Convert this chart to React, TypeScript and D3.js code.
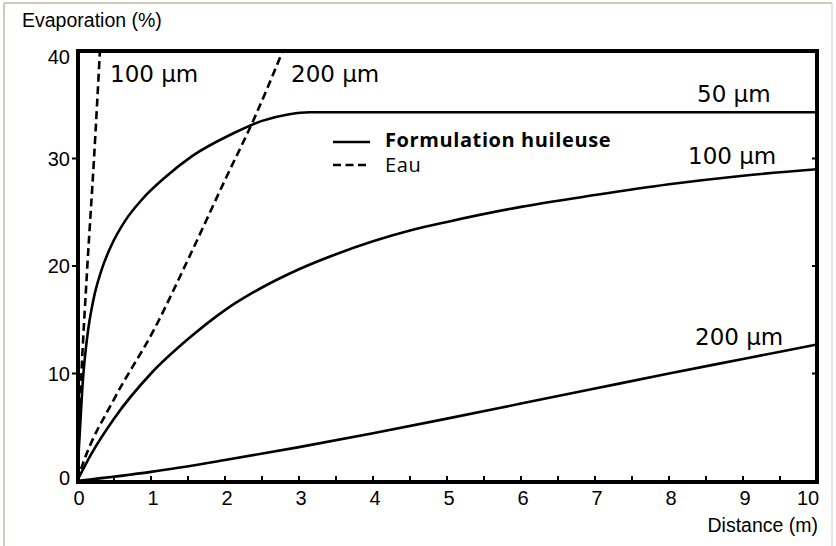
import React from 'react'
import * as d3 from 'd3'

// Distance (m) / evaporation (%) pairs
const oil50Distance = [0, 0.04, 0.08, 0.14, 0.22, 0.33, 0.47, 0.65, 0.88, 1.2, 1.55, 2.1, 2.5, 2.85, 3.15, 4, 10]
const oil50Evap = [0, 4.8, 9.4, 13.5, 16.8, 19.6, 22.0, 24.2, 26.2, 28.3, 30.2, 32.3, 33.5, 34.1, 34.3, 34.3, 34.3]

const oil100Distance = [0, 0.2, 0.5, 1, 1.5, 2, 2.5, 3, 3.5, 4, 4.5, 5, 6, 7, 8, 9, 10]
const oil100Evap = [0, 2.6, 5.8, 10, 13.2, 15.9, 18.0, 19.7, 21.1, 22.3, 23.3, 24.1, 25.5, 26.6, 27.6, 28.4, 29.0]

const oil200Distance = [0, 1, 2, 3, 4, 5, 6, 7, 8, 9, 10]
const oil200Evap = [0, 0.85, 1.95, 3.15, 4.45, 5.8, 7.2, 8.6, 10.0, 11.35, 12.7]

const water100Distance = [0, 0.06, 0.14, 0.23, 0.31]
const water100Evap = [0, 10, 20, 30, 40]

const water200Distance = [0, 0.1, 0.5, 1.05, 1.5, 2.0, 2.4, 2.78]
const water200Evap = [0, 2, 7.6, 14.2, 20.6, 28, 33.8, 40]

const xTickLabels = [0, 1, 2, 3, 4, 5, 6, 7, 8, 9, 10]
const xMinorTicks = [0.5, 1, 1.5, 2, 2.5, 3, 3.5, 4, 4.5, 5, 5.5, 6, 6.5, 7, 7.5, 8, 8.5, 9, 9.5]
const yTickLabels = [0, 10, 20, 30, 40]
const yInnerTicks = [10, 20, 30]

type Pt = [number, number]
const zip = (xs: number[], ys: number[]): Pt[] => xs.map((x, i) => [x, ys[i]])

const W = 836
const H = 546
const left = 78, right = 817, top = 51, bottom = 482

const x = d3.scaleLinear().domain([0, 10]).range([77, 817])
const y = d3.scaleLinear().domain([0, 40]).range([481, 51])

const line = d3.line<Pt>()
  .x(d => x(d[0]))
  .y(d => y(d[1]))
  .curve(d3.curveMonotoneX)

const labelFont = '"DejaVu Sans", sans-serif'
const axisFont = '"Liberation Sans", Arial, sans-serif'
const legendFont = '"Open Sans", sans-serif'

export default function App() {
  const solid = [zip(oil50Distance, oil50Evap), zip(oil100Distance, oil100Evap), zip(oil200Distance, oil200Evap)]
  const dashed = [zip(water100Distance, water100Evap), zip(water200Distance, water200Evap)]

  return (
    <svg width={W} height={H} style={{ position: 'absolute', left: 0, top: 0, background: '#fff' }}>
      <defs>
        <clipPath id="plot">
          <rect x={left} y={top} width={right - left} height={bottom - top} />
        </clipPath>
      </defs>

      {/* outer border */}
      <line x1={4} y1={3} x2={832} y2={3} stroke="#c6b6a6" strokeWidth={1.5} />
      <line x1={4} y1={3} x2={4} y2={H} stroke="#c6b6a6" strokeWidth={1.5} />
      <line x1={832} y1={3} x2={832} y2={H} stroke="#dcdcdc" strokeWidth={1.5} />

      {/* curves */}
      <g clipPath="url(#plot)" fill="none" stroke="#000" strokeWidth={2.6}>
        {solid.map((d, i) => <path key={'s' + i} d={line(d) || ''} />)}
        {dashed.map((d, i) => <path key={'d' + i} d={line(d) || ''} strokeDasharray="8,4.5" />)}
      </g>

      {/* ticks */}
      <g stroke="#000" strokeWidth={2}>
        {xMinorTicks.map(t => <line key={'xt' + t} x1={x(t)} x2={x(t)} y1={bottom} y2={bottom - 6} />)}
        {yInnerTicks.map(t => <line key={'yl' + t} x1={left} x2={left - 6} y1={y(t)} y2={y(t)} />)}
        {yInnerTicks.map(t => <line key={'yr' + t} x1={right} x2={right - 5} y1={y(t)} y2={y(t)} />)}
      </g>

      {/* frame */}
      <rect x={left} y={top} width={right - left} height={bottom - top} fill="none" stroke="#000" strokeWidth={4} />

      {/* tick labels */}
      <g fontFamily={axisFont} fontSize={20} fill="#000">
        {xTickLabels.map(t => (
          <text key={'xl' + t} x={x(t) + (t === 10 ? -9 : 2)} y={505} textAnchor="middle">{t}</text>
        ))}
        {yTickLabels.map(t => (
          <text key={'ylb' + t} x={70} y={y(t) + (t === 40 ? 6 : t === 0 ? -3 : 0)} dy="0.35em" textAnchor="end">{t}</text>
        ))}
      </g>

      {/* axis titles */}
      <text x={22} y={27} fontFamily={axisFont} fontSize={19.5}>Evaporation (%)</text>
      <text x={818} y={532} fontFamily={axisFont} fontSize={19.5} textAnchor="end">Distance (m)</text>

      {/* curve labels */}
      <g fontFamily={labelFont} fontSize={23} fill="#000">
        <text x={110} y={82}>100 µm</text>
        <text x={291} y={82}>200 µm</text>
        <text x={697} y={102}>50 µm</text>
        <text x={688} y={164}>100 µm</text>
        <text x={695} y={345}>200 µm</text>
      </g>

      {/* legend */}
      <line x1={333} x2={370} y1={142} y2={142} stroke="#000" strokeWidth={2.6} />
      <line x1={333} x2={370} y1={165} y2={165} stroke="#000" strokeWidth={2.6} strokeDasharray="8,4.5" />
      <text x={385} y={147} fontFamily={legendFont} fontWeight={700} fontSize={20} letterSpacing={0.6}>Formulation huileuse</text>
      <text x={385} y={172} fontFamily={legendFont} fontSize={20} letterSpacing={0.6}>Eau</text>
    </svg>
  )
}
